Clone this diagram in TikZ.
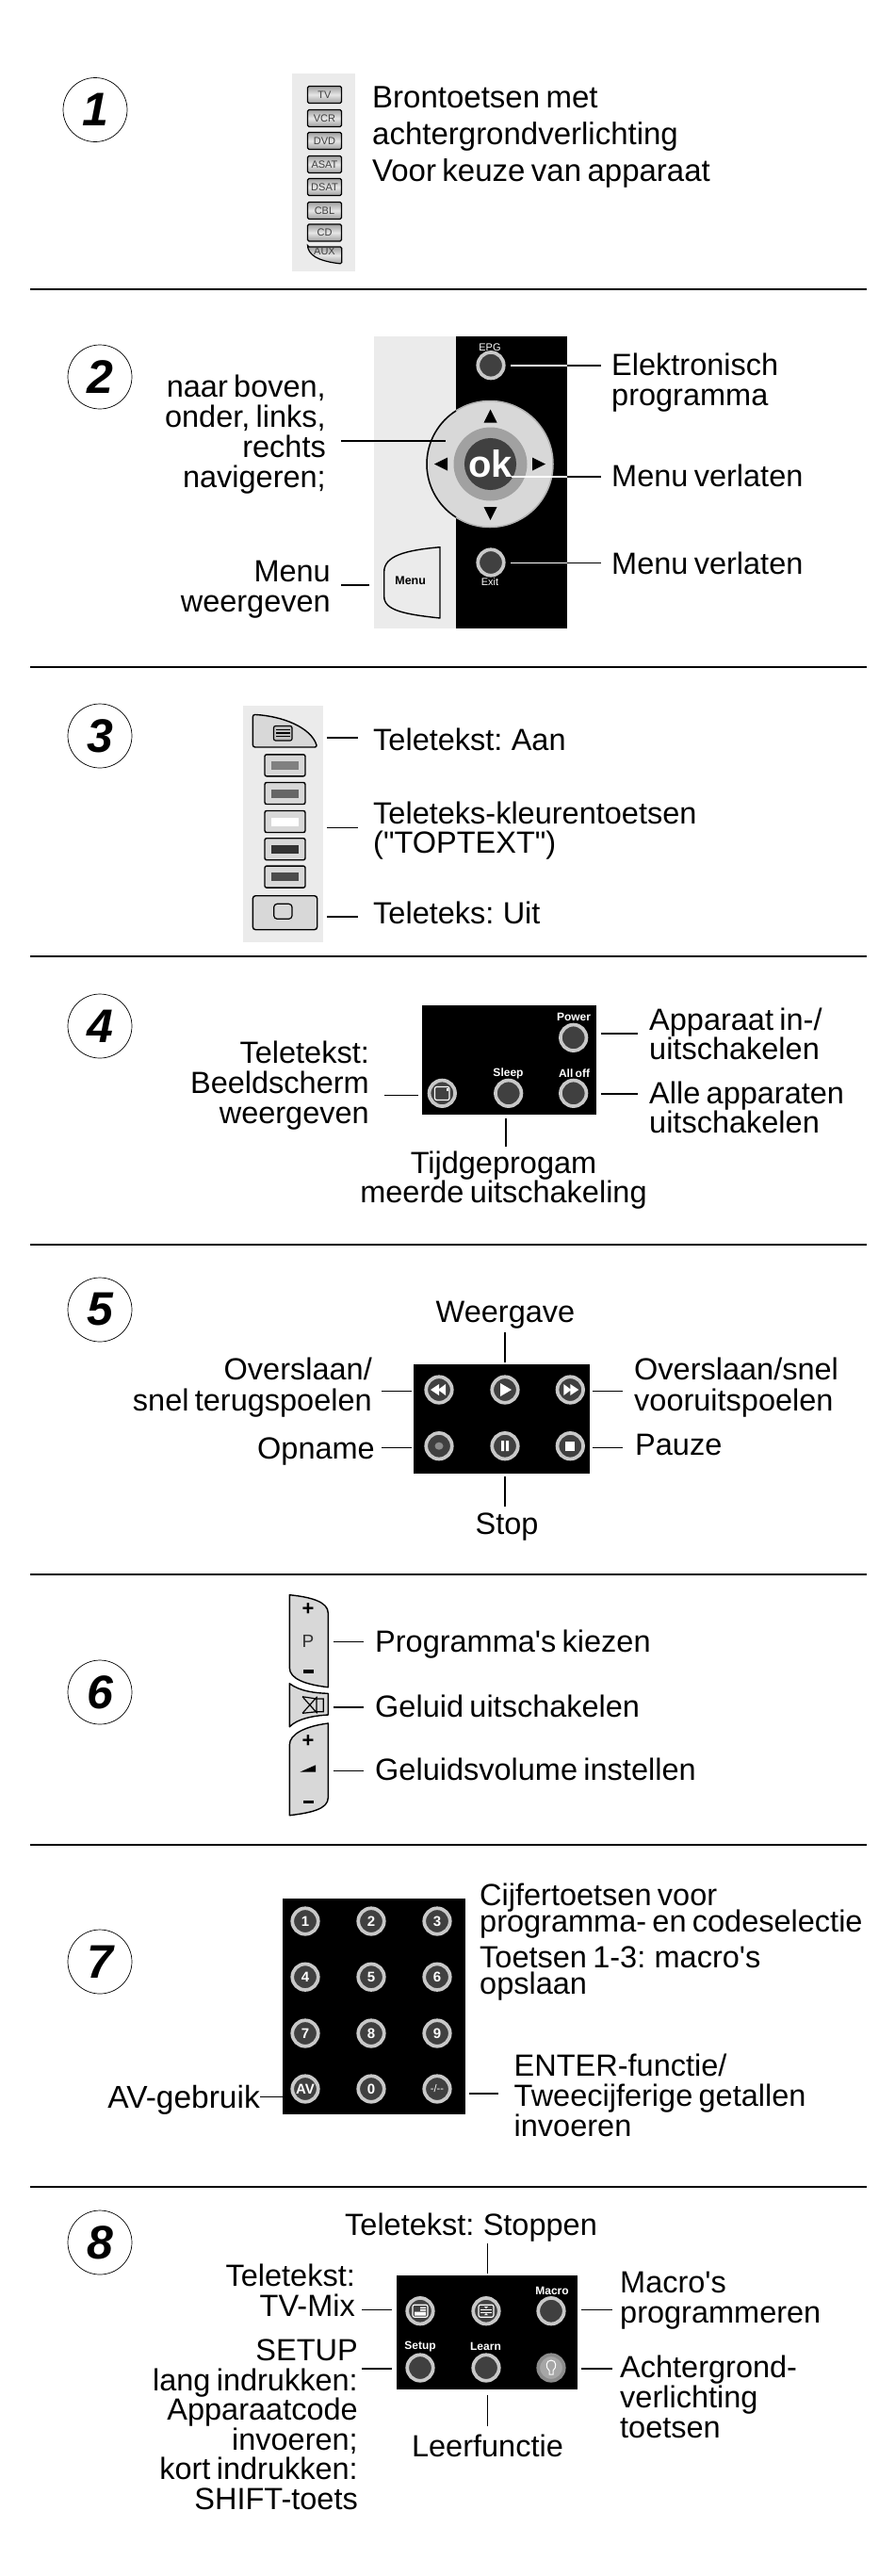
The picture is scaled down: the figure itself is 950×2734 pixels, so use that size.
\documentclass[tikz,border=0pt]{standalone}
\usepackage{fontspec}
\setmainfont[Ligatures=TeXOff,WordSpace=0.7]{Liberation Sans}
\definecolor{panelgrey}{HTML}{EBEBEB}
\definecolor{keygrey}{HTML}{D8D8D8}
\definecolor{ringgrey}{HTML}{C8C8C8}
\definecolor{keydark}{HTML}{404040}

\begin{document}
\begin{tikzpicture}[x=1pt,y=-1pt]
	\lineskiplimit=-100pt
	\tikzstyle{rule-line}=[line width=2.2pt]
	\tikzstyle{num-circ}=[circle,draw,fill=white,line width=0.7pt,minimum size=68pt,inner sep=0pt,font=\fontsize{50}{50}\selectfont\bfseries\itshape]
	\tikzstyle{r-annot}=[anchor=base east,align=right,inner sep=0pt,font=\fontsize{32.5}{32}\selectfont]
	\tikzstyle{l-annot}=[anchor=base west,align=left,inner sep=0pt,font=\fontsize{32.5}{32}\selectfont]
	\tikzstyle{c-annot}=[anchor=base,align=center,inner sep=0pt,font=\fontsize{32.5}{32}\selectfont]
	\tikzstyle{lead}=[line width=1.6pt]
	\tikzstyle{white-lead}=[line width=1.6pt,white]
	\tikzstyle{ring}=[circle,draw=ringgrey,fill=keydark,line width=3.7pt,minimum size=27.5pt,inner sep=0pt,text=white,font=\fontsize{15}{15}\selectfont\bfseries]
	\tikzstyle{key-cap}=[text=white,inner sep=0pt,font=\fontsize{12}{12}\selectfont\bfseries]
	\tikzstyle{key-thin}=[text=white,inner sep=0pt,font=\fontsize{11}{11}\selectfont]
	\tikzstyle{key-body}=[draw,fill=keygrey,line width=1.4pt,line join=round]
	\tikzstyle{src-key}=[draw,rounded corners=1.5pt,line width=1.2pt,top color=gray!75,bottom color=gray!75,middle color=gray!20]
	\tikzstyle{src-btn}=[src-key,minimum width=36pt,minimum height=18pt,inner sep=0pt,text=black!75,font=\fontsize{11}{11}\selectfont]
	\tikzstyle{col-key}=[draw,fill=keygrey,rounded corners=2pt,line width=1.4pt,minimum width=43pt,minimum height=23pt,inner sep=0pt]
	\tikzstyle{minus-bar}=[fill=black,minimum width=11pt,minimum height=3.5pt,inner sep=0pt]
	\useasboundingbox (0,0) rectangle (950,2734);

	% section rules
	\foreach \ypos in {307,708,1015,1321,1671,1958,2321}
		\draw[rule-line] (32,\ypos) -- (920,\ypos);

	% number circles
	\node[num-circ] (c1) at (101,116.5) {1};
	\foreach \num/\ypos in {2/400,3/781,4/1089,5/1390,6/1796,7/2082,8/2380}
		\node[num-circ] (c\num) at (106,\ypos) {\num};

	% 1: source keys
	\fill[panelgrey] (310,78) rectangle (377,288);
	\foreach \lab/\ypos in {TV/100.5,VCR/125.5,DVD/149.5,ASAT/174.5,DSAT/198.5,CBL/223.5,CD/247}
		\node[src-btn] (k\lab) at (344.5,\ypos) {\lab};
	\path[src-key] (326.5,262) -- (362.7,262) -- (362.7,280) .. controls (345,278) and (330,274) .. (326.5,262) -- cycle;
	\node[text=black!75,inner sep=0pt,font=\fontsize{11}{11}\selectfont] (kAUX) at (344.5,267) {AUX};
	\node[l-annot,font=\fontsize{33}{38.6}\selectfont] (t1) at (395,192) {Brontoetsen met\\achtergrondverlichting\\Voor keuze van apparaat};

	% 2: navigation panel
	\fill[panelgrey] (397,357) rectangle (484,667);
	\fill[black] (484,357) rectangle (602,667);
	\node[circle,draw=black!30,fill=keygrey,line width=1.5pt,minimum size=134pt,inner sep=0pt] (dpad) at (520,492.5) {};
	\draw[line width=1.5pt] (dpad.center) ++(122.5:67) arc (122.5:237.5:67);
	\node[circle,fill=black!37,minimum size=78pt,inner sep=0pt] (dmid) at (520.5,492.5) {};
	\node[circle,fill=keydark,minimum size=55pt,inner sep=0pt,text=white,font=\fontsize{40}{40}\selectfont\bfseries] (okk) at (520.5,492.5) {ok};
	\fill[shift={(520.5,441.5)}] (0,-7) -- (7,7) -- (-7,7) -- cycle;
	\fill[shift={(520.5,545)}] (0,7) -- (7,-7) -- (-7,-7) -- cycle;
	\fill[shift={(468,492.5)}] (-7,0) -- (7,-7) -- (7,7) -- cycle;
	\fill[shift={(572,492.5)}] (7,0) -- (-7,-7) -- (-7,7) -- cycle;
	\node[ring] (bepg) at (521,387.7) {};
	\node[key-thin] (tepg) at (520,369) {EPG};
	\node[ring] (bexit) at (521,597) {};
	\node[key-thin] (texit) at (520,617.7) {Exit};
	\draw[key-body,fill=panelgrey] (467,580.7) .. controls (430,584) and (407.7,590) .. (407.7,607) -- (407.7,633) .. controls (407.7,648) and (430,652) .. (467,656) -- cycle;
	\node[inner sep=0pt,font=\fontsize{12.5}{12.5}\selectfont\bfseries] (tmenu) at (435.7,616.7) {Menu};
	\node[r-annot] (t2a) at (346,517) {naar boven,\\onder, links,\\rechts\\navigeren;};
	\node[r-annot] (t2b) at (351,649) {Menu\\weergeven};
	\node[l-annot] (t2c) at (649,430) {Elektronisch\\programma};
	\node[l-annot] (t2d) at (649,516) {Menu verlaten};
	\node[l-annot] (t2e) at (649,609) {Menu verlaten};
	\coordinate (a1) at (542,387.7); \coordinate (a2) at (602,387.7); \coordinate (a3) at (638,387.7);
	\coordinate (b1) at (543,505.7); \coordinate (b2) at (602,505.7); \coordinate (b3) at (638,505.7);
	\coordinate (d1) at (542,597.3); \coordinate (d2) at (602,597.3); \coordinate (d3) at (638,597.3);
	\coordinate (e1) at (362,467.7); \coordinate (e2) at (473,467.7);
	\coordinate (f1) at (362,621); \coordinate (f2) at (392,621);
	\path[white-lead]
		(a1) edge (a2)
		(b1) edge (b2)
		(d1) edge (d2);
	\path[lead]
		(a2) edge (a3)
		(b2) edge (b3)
		(d2) edge (d3)
		(e1) edge (e2)
		(f1) edge (f2);

	% 3: teletext keys
	\fill[panelgrey] (258,749) rectangle (343,1000);
	\draw[key-body,rounded corners=2.5pt] (268.3,793) -- (268.3,758.3) .. controls (300,760) and (330,772) .. (336.7,793) -- cycle;
	\draw[line width=1.2pt,rounded corners=2pt,fill=black!25] (290.5,770.5) rectangle (310,786);
	\foreach \ypos in {774.5,778,781.5}
		\draw[line width=1.1pt] (293,\ypos) -- (307.5,\ypos);
	\foreach \num/\ypos/\shade in {1/812.3/black!50,2/842/black!60,3/872/white,4/901.2/black!80,5/930.6/black!70} {
		\node[col-key] (k3\num) at (302.5,\ypos) {};
		\node[fill=\shade,minimum width=29.5pt,minimum height=9pt,inner sep=0pt] (s3\num) at (k3\num) {};
	}
	\draw[key-body,rounded corners=3pt] (268.3,950.7) rectangle (336.7,986.7);
	\draw[line width=1.2pt,rounded corners=3.5pt] (290.7,959.3) rectangle (310,975.3);
	\node[l-annot] (t3a) at (396,796) {Teletekst: Aan};
	\node[l-annot,font=\fontsize{32.5}{30.5}\selectfont] (t3b) at (396,905.3) {Teleteks-kleurentoetsen\\("TOPTEXT")};
	\node[l-annot] (t3c) at (396,980.8) {Teleteks: Uit};
	\coordinate (g1) at (347,783); \coordinate (g2) at (380,783);
	\coordinate (h1) at (347,878.5); \coordinate (h2) at (380,878.5);
	\coordinate (i1) at (347,973); \coordinate (i2) at (380,973);
	\path[lead]
		(g1) edge (g2)
		(h1) edge (h2)
		(i1) edge (i2);

	% 4: power panel
	\fill[black] (448.3,1066.7) rectangle (633.3,1183);
	\node[ring] (b41) at (608.7,1101.3) {};
	\node[ring] (b42) at (469.3,1160.3) {};
	\node[ring] (b43) at (539.7,1160.3) {};
	\node[ring] (b44) at (608.7,1160.3) {};
	\draw[white,line width=1.1pt,rounded corners=2pt] (461.5,1153.5) rectangle (477,1167.5);
	\fill[white] (473.5,1154.5) rectangle (476,1158);
	\node[key-cap] (tpow) at (609,1079.2) {Power};
	\node[key-cap] (tslp) at (539.5,1139) {Sleep};
	\node[key-cap] (toff) at (609.5,1139) {All off};
	\node[r-annot] (t4a) at (392,1192.6) {Teletekst:\\Beeldscherm\\weergeven};
	\node[l-annot,font=\fontsize{32.5}{30.7}\selectfont] (t4b) at (689,1124.5) {Apparaat in-/\\uitschakelen};
	\node[l-annot,font=\fontsize{32.5}{30.7}\selectfont] (t4c) at (689,1202) {Alle apparaten\\uitschakelen};
	\node[c-annot,font=\fontsize{32.5}{31}\selectfont] (t4d) at (534.5,1276) {Tijdgeprogam\\meerde uitschakeling};
	\coordinate (j1) at (407.5,1162.4); \coordinate (j2) at (444,1162.4);
	\coordinate (l1) at (637.5,1097); \coordinate (l2) at (676.5,1097);
	\coordinate (m1) at (637.5,1161); \coordinate (m2) at (676.5,1161);
	\coordinate (n1) at (537,1186.5); \coordinate (n2) at (537,1216.7);
	\path[lead]
		(j1) edge (j2)
		(l1) edge (l2)
		(m1) edge (m2)
		(n1) edge (n2);

	% 5: transport panel
	\fill[black] (439,1448) rectangle (625.5,1564);
	\node[ring] (b51) at (466,1475) {};
	\node[ring] (b52) at (536,1475) {};
	\node[ring] (b53) at (605.3,1475) {};
	\node[ring] (b54) at (466,1534.7) {};
	\node[ring] (b55) at (536,1534.7) {};
	\node[ring] (b56) at (605.3,1534.7) {};
	\fill[white,shift={(b51)}] (-9,0) -- (0,-6) -- (0,6) -- cycle (-1,0) -- (7,-6) -- (7,6) -- cycle;
	\fill[white,shift={(b52)}] (-5,-7) -- (7,0) -- (-5,7) -- cycle;
	\fill[white,shift={(b53)}] (9,0) -- (0,-6) -- (0,6) -- cycle (1,0) -- (-7,-6) -- (-7,6) -- cycle;
	\fill[black!45,shift={(b54)}] (0,0) ellipse (4.5 and 4);
	\fill[white,shift={(b55)}] (-4,-5.5) rectangle (-1,5.5) (1,-5.5) rectangle (4,5.5);
	\fill[white,shift={(b56)}] (-5,-5) rectangle (5,5);
	\node[c-annot] (t5a) at (536.5,1403) {Weergave};
	\node[c-annot] (t5b) at (538,1628.5) {Stop};
	\node[r-annot,font=\fontsize{32.5}{32.8}\selectfont] (t5c) at (395,1497.3) {Overslaan/\\snel terugspoelen};
	\node[r-annot] (t5d) at (398,1548.3) {Opname};
	\node[l-annot,font=\fontsize{32.5}{32.8}\selectfont] (t5e) at (673,1497.3) {Overslaan/snel\\vooruitspoelen};
	\node[l-annot] (t5f) at (674,1544) {Pauze};
	\coordinate (o1) at (536,1414); \coordinate (o2) at (536,1446);
	\coordinate (p1) at (536,1567); \coordinate (p2) at (536,1599);
	\coordinate (q1) at (404.5,1476.4); \coordinate (q2) at (436.5,1476.4);
	\coordinate (r1) at (404.5,1536.4); \coordinate (r2) at (436.5,1536.4);
	\coordinate (s1) at (628.5,1476.4); \coordinate (s2) at (660.5,1476.4);
	\coordinate (u1) at (628.5,1536.4); \coordinate (u2) at (660.5,1536.4);
	\path[lead]
		(o1) edge (o2)
		(p1) edge (p2)
		(q1) edge (q2)
		(r1) edge (r2)
		(s1) edge (s2)
		(u1) edge (u2);

	% 6: rocker keys
	\draw[key-body] (307.3,1692.7) .. controls (330,1695) and (348.3,1700) .. (348.3,1712) -- (348.3,1790.7) .. controls (325,1788) and (307.3,1782) .. (307.3,1770) -- cycle;
	\draw[key-body] (307.3,1786.7) .. controls (318,1795) and (335,1797) .. (348.3,1797.3) -- (348.3,1820) .. controls (332,1821) and (316,1824) .. (307.3,1832.7) -- cycle;
	\draw[key-body] (348.3,1829) .. controls (325,1832) and (307.3,1840) .. (307.3,1852) -- (307.3,1926.7) .. controls (330,1924) and (348.3,1920) .. (348.3,1908) -- cycle;
	\node[inner sep=0pt,font=\fontsize{22}{22}\selectfont\bfseries] (pl1) at (327,1708.3) {+};
	\node[inner sep=0pt,text=black!80,font=\fontsize{19}{19}\selectfont] (tp) at (327,1741.7) {P};
	\node[minus-bar] (mn1) at (327,1774) {};
	\node[inner sep=0pt,font=\fontsize{22}{22}\selectfont\bfseries] (pl2) at (327,1848.3) {+};
	\fill (318.3,1880.7) -- (335,1873.3) -- (335,1880.7) -- cycle;
	\node[minus-bar] (mn2) at (327,1912.3) {};
	\draw[line width=1.2pt] (336,1803) rectangle (343.3,1816.7) (336,1803) -- (321,1800.7) (336,1816.7) -- (321,1818.3) (321,1800.7) -- (336.7,1818.3) (321,1818.3) -- (336.7,1800.7);
	\node[l-annot] (t6a) at (398,1753) {Programma's kiezen};
	\node[l-annot] (t6b) at (398,1822) {Geluid uitschakelen};
	\node[l-annot] (t6c) at (398,1889.4) {Geluidsvolume instellen};
	\coordinate (v1) at (353.5,1742.3); \coordinate (v2) at (385.5,1742.3);
	\coordinate (w1) at (353.5,1812); \coordinate (w2) at (385.5,1812);
	\coordinate (y1) at (353.5,1879.3); \coordinate (y2) at (385.5,1879.3);
	\path[lead]
		(v1) edge (v2)
		(w1) edge (w2)
		(y1) edge (y2);

	% 7: number pad
	\fill[black] (300,2015.3) rectangle (494,2243.8);
	\foreach \lab/\xpos/\ypos in {1/324/2039,2/394/2039,3/464/2039,4/324/2098.2,5/394/2098.2,6/464/2098.2,7/324/2158,8/394/2158,9/464/2158,AV/324/2217,0/394/2217}
		\node[ring] (n\lab) at (\xpos,\ypos) {\lab};
	\node[ring,font=\fontsize{11}{11}\selectfont] (ndash) at (464,2217) {-/--};
	\node[l-annot,font=\fontsize{32.5}{28}\selectfont] (t7a) at (509,2050.8) {Cijfertoetsen voor\\programma- en codeselectie};
	\node[l-annot,font=\fontsize{32.5}{28}\selectfont] (t7b) at (509,2116.5) {Toetsen 1-3: macro's\\opslaan};
	\node[r-annot,font=\fontsize{33.5}{32}\selectfont] (t7c) at (276,2237.4) {AV-gebruik};
	\node[l-annot] (t7d) at (545.5,2267) {ENTER-functie/\\Tweecijferige getallen\\invoeren};
	\coordinate (z1) at (276,2225.5); \coordinate (z2) at (300,2225.5);
	\coordinate (aa1) at (497.5,2222); \coordinate (aa2) at (529,2222);
	\path[lead]
		(z1) edge (z2)
		(aa1) edge (aa2);

	% 8: setup panel
	\fill[black] (421,2415) rectangle (613,2536);
	\node[ring] (b81) at (446,2452.7) {};
	\node[ring] (b82) at (516,2452.7) {};
	\node[ring] (b83) at (585,2452.7) {};
	\node[ring] (b84) at (446,2513) {};
	\node[ring] (b85) at (516,2513) {};
	\node[ring,draw=black!45,fill=black!35] (b86) at (585,2513) {};
	\draw[white,line width=1.1pt,rounded corners=2pt,shift={(b81)}] (-8,-6.5) rectangle (8,6.5);
	\fill[white,shift={(b81)}] (-6,1) rectangle (6,5) (0,-4) rectangle (6,-2.5) (0,-1.5) rectangle (6,0);
	\draw[white,line width=1.1pt,rounded corners=2pt,shift={(b82)}] (-8,-6.5) rectangle (8,6.5);
	\draw[white,line width=0.8pt,shift={(b82)}] (-6,-1.5) -- (6,-1.5) (-6,1.5) -- (6,1.5);
	\fill[white,shift={(b82)}] (-2,-4.5) -- (2,-4.5) -- (0,-2.5) -- cycle (-2,4.5) -- (2,4.5) -- (0,2.5) -- cycle;
	\draw[white,line width=1pt,shift={(b86)}] (-2,7) -- (-2,3) .. controls (-6,0) and (-6,-8) .. (0,-8) .. controls (6,-8) and (6,0) .. (2,3) -- (2,7) -- cycle;
	\node[key-cap] (tmac) at (586,2431.4) {Macro};
	\node[key-cap] (tset) at (446,2490.6) {Setup};
	\node[key-cap] (tlea) at (515.5,2490.6) {Learn};
	\node[c-annot] (t8a) at (500,2372) {Teletekst: Stoppen};
	\node[r-annot] (t8b) at (377,2458.5) {Teletekst:\\TV-Mix};
	\node[r-annot,font=\fontsize{32.5}{31.6}\selectfont] (t8c) at (380,2663.4) {SETUP\\lang indrukken:\\Apparaatcode\\invoeren;\\kort indrukken:\\SHIFT-toets};
	\node[c-annot] (t8d) at (517.5,2607.6) {Leerfunctie};
	\node[l-annot] (t8e) at (658,2465) {Macro's\\programmeren};
	\node[l-annot] (t8f) at (658,2587.9) {Achtergrond-\\verlichting\\toetsen};
	\coordinate (ab1) at (517.5,2381); \coordinate (ab2) at (517.5,2412.6);
	\coordinate (ac1) at (517.5,2542.4); \coordinate (ac2) at (517.5,2574.5);
	\coordinate (ad1) at (384,2451.6); \coordinate (ad2) at (415.5,2451.6);
	\coordinate (ae1) at (384,2513.8); \coordinate (ae2) at (415.5,2513.8);
	\coordinate (af1) at (617,2451.6); \coordinate (af2) at (650,2451.6);
	\coordinate (ag1) at (617,2513.8); \coordinate (ag2) at (650,2513.8);
	\path[lead]
		(ab1) edge (ab2)
		(ac1) edge (ac2)
		(ad1) edge (ad2)
		(ae1) edge (ae2)
		(af1) edge (af2)
		(ag1) edge (ag2);
\end{tikzpicture}
\end{document}
